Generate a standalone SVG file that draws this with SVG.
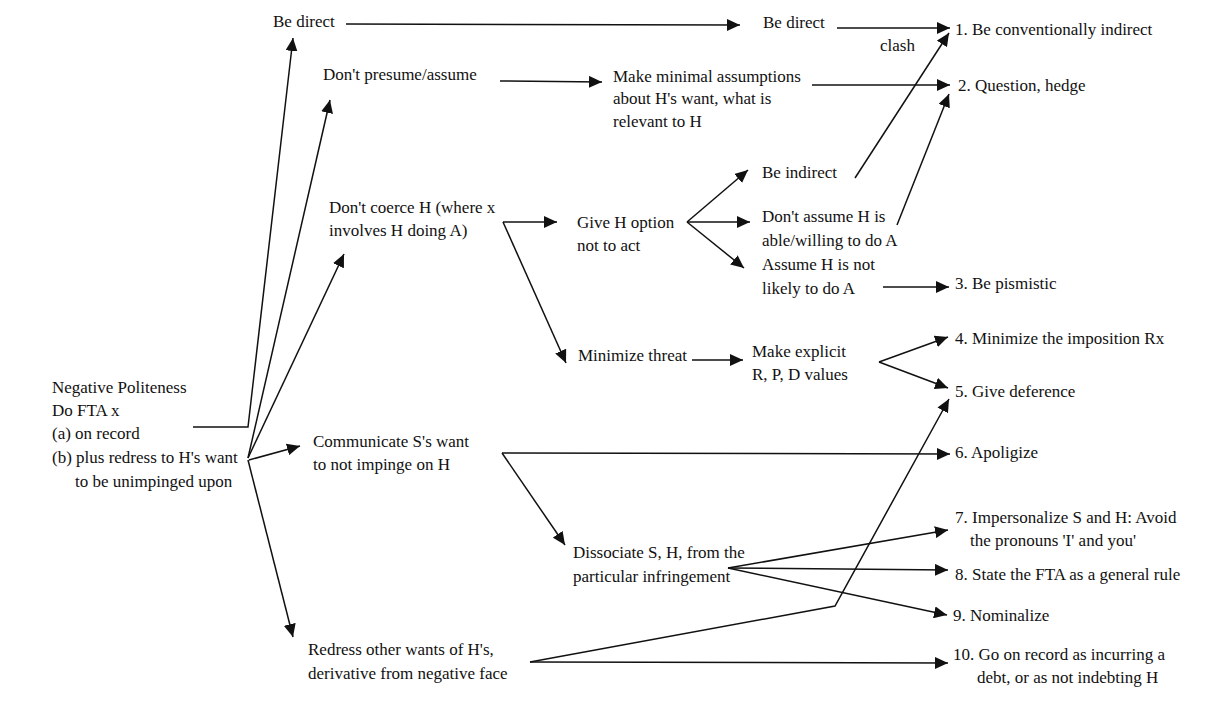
<svg xmlns="http://www.w3.org/2000/svg" width="1210" height="716" viewBox="0 0 1210 716" font-family="Liberation Serif, DejaVu Serif, serif" font-size="17">
<style>
text{fill:#111}
.c{fill:none;stroke:#111;stroke-width:1.5}
.a{marker-end:url(#ah)}
</style>
<defs>
<marker id="ah" markerUnits="userSpaceOnUse" markerWidth="14" markerHeight="12" refX="13" refY="6" orient="auto">
<path d="M0,0 L13,6 L0,12 Z" fill="#111"/>
</marker>
</defs>
<rect width="1210" height="716" fill="#fff"/>
<g id="connectors">
<path class="c a" d="M193,427 L248,427 L293,38"/>
<path class="c a" d="M248,458 L330,100"/>
<path class="c a" d="M248,458 L344,254"/>
<path class="c a" d="M249,460 L300,446"/>
<path class="c a" d="M248,460 L293,637"/>
<path class="c a" d="M346,24 L740,25"/>
<path class="c a" d="M837,28 L950,28"/>
<path class="c a" d="M500,81 L602,82"/>
<path class="c a" d="M812,85 L950,85"/>
<path class="c a" d="M855,178 L949,33"/>
<path class="c a" d="M897,225 L949,94"/>
<path class="c a" d="M503,222 L557,222"/>
<path class="c a" d="M503,222 L566,363"/>
<path class="c a" d="M687,222 L748,170"/>
<path class="c a" d="M687,222 L750,222"/>
<path class="c a" d="M687,222 L744,268"/>
<path class="c a" d="M883,287 L949,287"/>
<path class="c a" d="M692,360 L743,360"/>
<path class="c a" d="M879,362 L948,337"/>
<path class="c a" d="M879,362 L948,388"/>
<path class="c a" d="M502,453 L950,454"/>
<path class="c a" d="M502,453 L565,545"/>
<path class="c a" d="M728,568 L948,530"/>
<path class="c a" d="M728,568 L948,570"/>
<path class="c a" d="M728,568 L947,615"/>
<path class="c a" d="M530,662 L948,663"/>
<path class="c a" d="M530,662 L835,606 L949,399"/>
</g>
<g id="n-root"><text x="52" y="393">Negative Politeness</text><text x="52" y="416">Do FTA x</text><text x="52" y="439">(a) on record</text><text x="52" y="463">(b) plus redress to H's want</text><text x="75" y="487">to be unimpinged upon</text></g>
<g id="n-bedirect1"><text x="273" y="27">Be direct</text></g>
<g id="n-presume"><text x="323" y="80">Don't presume/assume</text></g>
<g id="n-coerce"><text x="329" y="213">Don't coerce H (where x</text><text x="329" y="236">involves H doing A)</text></g>
<g id="n-communicate"><text x="313" y="447">Communicate S's want</text><text x="313" y="470">to not impinge on H</text></g>
<g id="n-redress"><text x="308" y="655">Redress other wants of H's,</text><text x="308" y="679">derivative from negative face</text></g>
<g id="n-bedirect2"><text x="763" y="28">Be direct</text></g>
<g id="n-minimal"><text x="613" y="82">Make minimal assumptions</text><text x="613" y="104">about H's want, what is</text><text x="613" y="127">relevant to H</text></g>
<g id="n-option"><text x="577" y="228">Give H option</text><text x="577" y="251">not to act</text></g>
<g id="n-threat"><text x="578" y="361">Minimize threat</text></g>
<g id="n-explicit"><text x="752" y="357">Make explicit</text><text x="752" y="380">R, P, D values</text></g>
<g id="n-dissociate"><text x="573" y="558">Dissociate S, H, from the</text><text x="573" y="582">particular infringement</text></g>
<g id="n-indirect"><text x="762" y="178">Be indirect</text></g>
<g id="n-dontassume"><text x="762" y="222">Don't assume H is</text><text x="762" y="246">able/willing to do A</text></g>
<g id="n-assume"><text x="762" y="270">Assume H is not</text><text x="762" y="294">likely to do A</text></g>
<g id="clash-label"><text x="880" y="51">clash</text></g>
<g id="n1"><text x="955" y="35">1. Be conventionally indirect</text></g>
<g id="n2"><text x="958" y="91">2. Question, hedge</text></g>
<g id="n3"><text x="955" y="289">3. Be pismistic</text></g>
<g id="n4"><text x="955" y="344">4. Minimize the imposition Rx</text></g>
<g id="n5"><text x="955" y="397">5. Give deference</text></g>
<g id="n6"><text x="955" y="458">6. Apoligize</text></g>
<g id="n7"><text x="955" y="523">7. Impersonalize S and H: Avoid</text><text x="970" y="546">the pronouns 'I' and you'</text></g>
<g id="n8"><text x="955" y="580">8. State the FTA as a general rule</text></g>
<g id="n9"><text x="953" y="621">9. Nominalize</text></g>
<g id="n10"><text x="953" y="660">10. Go on record as incurring a</text><text x="977" y="683">debt, or as not indebting H</text></g>
</svg>
